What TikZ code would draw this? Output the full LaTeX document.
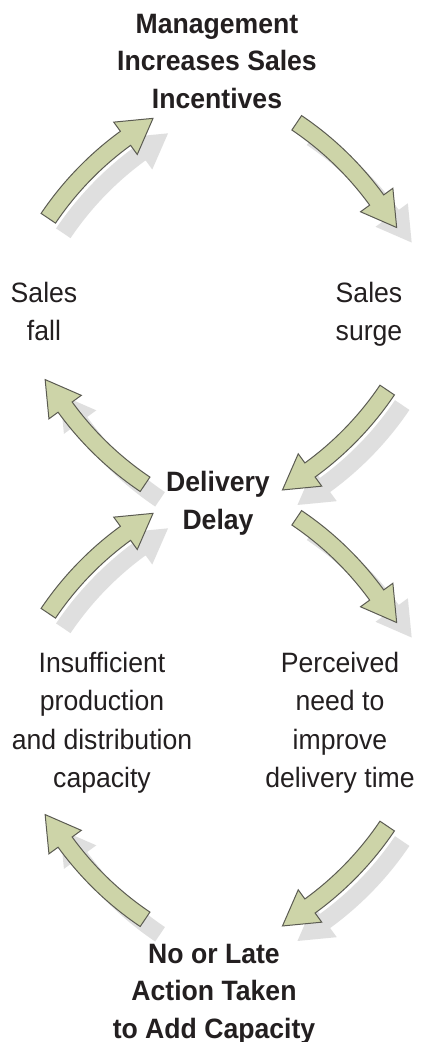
\documentclass[tikz,border=0pt]{standalone}
\usepackage{fontspec}
\setmainfont{Liberation Sans}[FakeStretch=0.95]
\definecolor{arrowgreen}{HTML}{CDD4A8}
\definecolor{arrowline}{HTML}{5B5B52}
\definecolor{shadowgray}{HTML}{DFDFDF}
\definecolor{textcol}{HTML}{231F20}
\tikzset{
  lbl/.style={anchor=base, align=center, inner sep=0pt, text=textcol,
    font=\fontsize{28}{38.5}\selectfont},
  boldlbl/.style={lbl, font=\fontsize{28}{37.5}\selectfont\bfseries},
  arrowbody/.style={fill=arrowgreen, draw=arrowline, line width=1pt, line join=miter},
  arrowshadow/.style={fill=shadowgray},
}
% #1 cx, #2 cy (arc centre), #3 start angle of the tail
\newcommand{\cyclearrow}[3]{%
  \begin{scope}[shift={(#1,#2)}]
    \pgfmathsetmacro{\aone}{#3}
    \pgfmathsetmacro{\atwo}{#3-20}
    \pgfmathsetmacro{\atip}{#3-26.065}
    \fill[arrowshadow, shift={(15,-15)}]
      (\aone:328.7) arc[start angle=\aone, end angle=\atwo, radius=328.7]
      -- (\atwo:340) -- (\atip:321.8) -- (\atwo:300) -- (\atwo:311.3)
      arc[start angle=\atwo, end angle=\aone, radius=311.3] -- cycle;
    \path[arrowbody]
      (\aone:328.7) arc[start angle=\aone, end angle=\atwo, radius=328.7]
      -- (\atwo:340) -- (\atip:321.8) -- (\atwo:300) -- (\atwo:311.3)
      arc[start angle=\atwo, end angle=\aone, radius=311.3] -- cycle;
  \end{scope}}
\begin{document}
\begin{tikzpicture}[x=1pt, y=1pt]
  \fill[white] (0,0) rectangle (423,-1042);
  \useasboundingbox (0,0) rectangle (423,-1042);

  % arrows
  \cyclearrow{313.6}{-397.2}{146}
  \cyclearrow{117.8}{-388.1}{56}
  \cyclearrow{121.9}{-211.1}{-34}
  \cyclearrow{324}{-219}{-124}
  \cyclearrow{313.6}{-792.2}{146}
  \cyclearrow{117.8}{-783.1}{56}
  \cyclearrow{121.9}{-647.1}{-34}
  \cyclearrow{324}{-654}{-124}

  % labels (anchor base = baseline of the last line)
  \node[boldlbl] (mgmt) at (217,-108) {Management\\Increases Sales\\Incentives};
  \node[lbl] (fall) at (44,-340.5) {Sales\\fall};
  \node[lbl] (surge) at (369,-340.5) {Sales\\surge};
  \node[boldlbl] (delay) at (218,-529) {Delivery\\Delay};
  \node[lbl] (insuff) at (102,-787.5) {Insufficient\\production\\and distribution\\capacity};
  \node[lbl] (need) at (340,-787.5) {Perceived\\need to\\improve\\delivery time};
  \node[boldlbl] (noaction) at (214,-1038) {No or Late\\Action Taken\\to Add Capacity};
\end{tikzpicture}
\end{document}
